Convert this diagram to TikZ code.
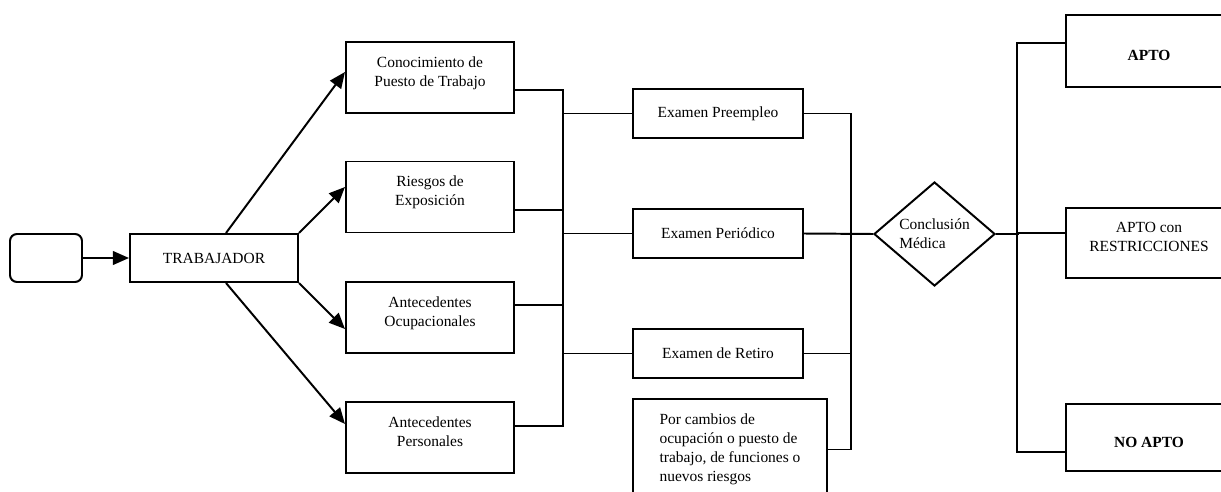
\documentclass[tikz,border=0pt]{standalone}
\usepackage{fontspec}
\setmainfont{Liberation Serif}
\usetikzlibrary{arrows.meta,shapes.geometric,positioning}

\begin{document}
\begin{tikzpicture}[x=0.025cm, y=-0.025cm, line width=1.4pt,
  every node/.style={font=\fontsize{11}{13.5}\selectfont},
  caja/.style={draw, rectangle, align=center, line width=1.4pt},
  flecha/.style={-{Triangle[length=4mm,width=3.4mm]}}]
	\useasboundingbox (0,0) rectangle (1221,492);
	\clip (0,0) rectangle (1221,492);
	% inicio y trabajador
	\node[caja, rounded corners=5pt, minimum width=1.8cm, minimum height=1.2cm] (inicio) at (46,258) {};
	\node[caja, minimum width=4.2cm, minimum height=1.2cm] (trab) at (214,258) {TRABAJADOR};
	% datos del trabajador
	\node[caja, minimum width=4.2cm, minimum height=1.775cm, text depth=0.3cm] (cono) at (430,77.5) {Conocimiento de\\Puesto de Trabajo};
	\node[caja, minimum width=4.2cm, minimum height=1.775cm, text depth=0.3cm] (ries) at (430,197) {Riesgos de\\Exposición};
	\node[caja, minimum width=4.2cm, minimum height=1.775cm, text depth=0.3cm] (ocup) at (430,317.5) {Antecedentes\\Ocupacionales};
	\node[caja, minimum width=4.2cm, minimum height=1.775cm, text depth=0.3cm] (pers) at (430,437.5) {Antecedentes\\Personales};
	% examenes
	\node[caja, minimum width=4.25cm, minimum height=1.225cm] (pre) at (718,113.5) {Examen Preempleo};
	\node[caja, minimum width=4.25cm, minimum height=1.225cm] (per) at (718,233.5) {Examen Periódico};
	\node[caja, minimum width=4.25cm, minimum height=1.225cm] (ret) at (718,353.5) {Examen de Retiro};
	\node[caja, align=left, minimum width=4.85cm, minimum height=2.525cm] (cam) at (730,449.5) {Por cambios de\\ocupación o puesto de\\trabajo, de funciones o\\nuevos riesgos};
	% conclusion
	\node[draw, diamond, aspect=1.16, inner sep=0pt, align=left, minimum width=3.025cm, minimum height=2.6cm] (conc) at (934.5,234) {Conclusión\\Médica};
	\node[caja, minimum width=4.15cm, minimum height=1.8cm, text height=0.48cm] (apto) at (1149,51) {\textbf{APTO}};
	\node[caja, minimum width=4.15cm, minimum height=1.75cm, text depth=0.3cm] (rest) at (1149,243) {APTO con\\RESTRICCIONES};
	\node[caja, minimum width=4.15cm, minimum height=1.675cm, text height=0.48cm] (noapto) at (1149,437.5) {\textbf{NO APTO}};

	\draw[flecha] (inicio) -- (trab);
	\draw[flecha] ([xshift=0.3cm]trab.north) -- ([yshift=0.1375cm]cono.west);
	\draw[flecha] (trab.north east) -- ([yshift=0.25cm]ries.west);
	\draw[flecha] (trab.south east) -- ([yshift=-0.2875cm]ocup.west);
	\draw[flecha] ([xshift=0.3cm]trab.south) -- ([yshift=0.3375cm]pers.west);

	\draw ([yshift=-0.3125cm]cono.east) -- ++(48,0) coordinate (b1) -- ++(0,336) -- ([yshift=0.2875cm]pers.east);
	\draw ([yshift=-0.325cm]ries.east) -- ++(48,0);
	\draw ([yshift=0.3125cm]ocup.east) -- ++(48,0);
	\draw (pre.west) -- (pre.west -| b1);
	\draw (per.west) -- (per.west -| b1);
	\draw (ret.west) -- (ret.west -| b1);

	\draw (pre.east) -- ++(47,0) coordinate (b3) |- (cam.east);
	\draw (ret.east) -- (ret.east -| b3);
	\draw (per.east) -- (conc.west);

	\draw (conc.east) -- ++(23,0);
	\draw ([yshift=0.2cm]apto.west) -- ++(-48,0) -- ++(0,409) -- ([yshift=-0.3625cm]noapto.west);
	\draw ([yshift=0.25cm]rest.west) -- ++(-48,0);
\end{tikzpicture}
\end{document}
